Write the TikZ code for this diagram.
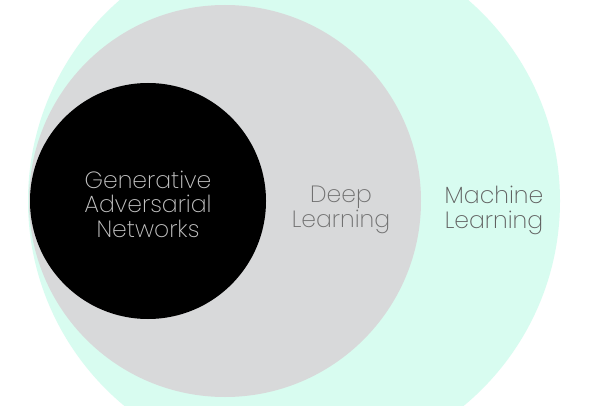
\documentclass[tikz,border=0pt]{standalone}
\usepackage{fontspec}
\setmainfont{Poppins}[UprightFont=* ExtraLight]
\definecolor{mint}{HTML}{D8FCF0}
\definecolor{dlgray}{HTML}{D8D9DA}
\definecolor{gantext}{HTML}{C4C4C4}
\definecolor{dltext}{HTML}{707070}
\definecolor{mltext}{HTML}{606060}
\begin{document}
\begin{tikzpicture}[x=1pt,y=1pt,
  disc/.style={circle,inner sep=0pt,minimum size=#1},
  lbl/.style={align=center,font=\fontsize{23.5}{24.5}\selectfont,inner sep=0pt,anchor=base}]
\useasboundingbox (0,0) rectangle (602,405);
\clip (0,0) rectangle (602,405);
\fill[white] (0,0) rectangle (602,405);
\node[disc=532pt,fill=mint] (ml) at (294,204) {};
\node[disc=392pt,fill=dlgray] (dl) at (225,204) {};
\node[disc=236pt,fill=black] (gan) at (148,204) {};
\node[lbl,text=gantext] (gant) at (148,168) {Generative\\Adversarial\\Networks};
\node[lbl,text=dltext] (dlt) at (341,178) {Deep\\Learning};
\node[lbl,text=mltext] (mlt) at (494,177) {Machine\\Learning};
\end{tikzpicture}
\end{document}
